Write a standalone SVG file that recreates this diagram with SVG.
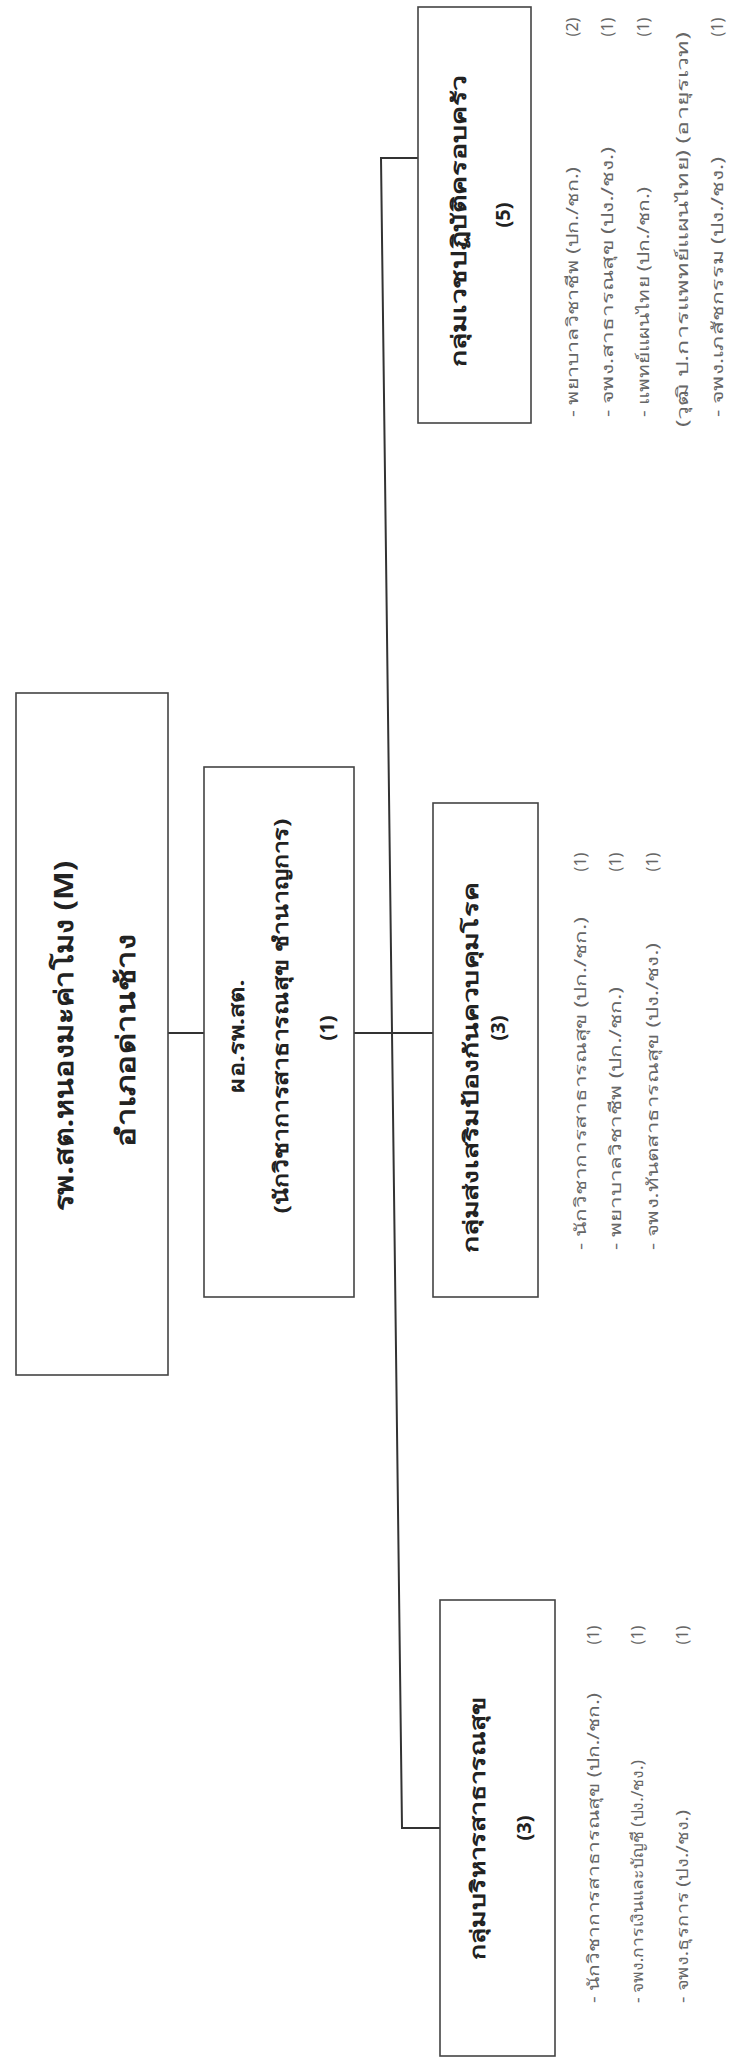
<svg xmlns="http://www.w3.org/2000/svg" width="729" height="2060" viewBox="0 0 729 2060">
<style>
.box{fill:#fff;stroke:#444;stroke-width:1.6}
.conn{fill:none;stroke:#333;stroke-width:2}
.t{font-family:"Noto Sans","DejaVu Sans",sans-serif;fill:#222;dominant-baseline:central}
.b{font-weight:bold}
.ttl{font-size:20px;text-anchor:middle}
.big{font-size:26px;text-anchor:middle}
.li{font-size:16px;fill:#666;text-anchor:start}
.cnt{font-size:16px;fill:#666;text-anchor:middle}
</style>
<rect width="729" height="2060" fill="#fff"/>
<g id="connectors">
<path class="conn" d="M418,158 H381 L402,1828 H440"/>
<path class="conn" d="M168,1033 H204"/>
<path class="conn" d="M354,1033 H433"/>
</g>
<g id="node-hospital">
<rect class="box" x="16" y="693" width="152" height="682"/>
<text class="t b big" transform="translate(63,1036) rotate(-90)" textLength="350" lengthAdjust="spacingAndGlyphs">รพ.สต.หนองมะค่าโมง (M)</text>
<text class="t b big" transform="translate(125,1040) rotate(-90)" textLength="213" lengthAdjust="spacingAndGlyphs">อำเภอด่านช้าง</text>
</g>
<g id="node-director">
<rect class="box" x="204" y="767" width="150" height="530"/>
<text class="t b ttl" transform="translate(236,1036) rotate(-90)" textLength="113" lengthAdjust="spacingAndGlyphs">ผอ.รพ.สต.</text>
<text class="t b ttl" transform="translate(280,1016) rotate(-90)" textLength="395" lengthAdjust="spacingAndGlyphs">(นักวิชาการสาธารณสุข ชำนาญการ)</text>
<text class="t b ttl" transform="translate(326,1028) rotate(-90)">(1)</text>
</g>
<g id="node-family">
<rect class="box" x="418" y="7" width="113" height="416"/>
<text class="t b ttl" transform="translate(458,221) rotate(-90)" textLength="292" lengthAdjust="spacingAndGlyphs">กลุ่มเวชปฏิบัติครอบครัว</text>
<text class="t b ttl" transform="translate(502,215) rotate(-90)">(5)</text>
<text class="t li" transform="translate(572,417) rotate(-90)" textLength="250" lengthAdjust="spacingAndGlyphs">- พยาบาลวิชาชีพ (ปก./ชก.)</text>
<text class="t li" transform="translate(607,417) rotate(-90)" textLength="270" lengthAdjust="spacingAndGlyphs">- จพง.สาธารณสุข (ปง./ชง.)</text>
<text class="t li" transform="translate(643,417) rotate(-90)" textLength="230" lengthAdjust="spacingAndGlyphs">- แพทย์แผนไทย (ปก./ชก.)</text>
<text class="t li" transform="translate(682,427) rotate(-90)" textLength="395" lengthAdjust="spacingAndGlyphs">(วุฒิ ป.การแพทย์แผนไทย) (อายุรเวท)</text>
<text class="t li" transform="translate(717,417) rotate(-90)" textLength="260" lengthAdjust="spacingAndGlyphs">- จพง.เภสัชกรรม (ปง./ชง.)</text>
<text class="t cnt" transform="translate(572,27) rotate(-90)">(2)</text>
<text class="t cnt" transform="translate(607,27) rotate(-90)">(1)</text>
<text class="t cnt" transform="translate(643,27) rotate(-90)">(1)</text>
<text class="t cnt" transform="translate(717,27) rotate(-90)">(1)</text>
</g>
<g id="node-promotion">
<rect class="box" x="433" y="803" width="105" height="494"/>
<text class="t b ttl" transform="translate(470,1068) rotate(-90)" textLength="370" lengthAdjust="spacingAndGlyphs">กลุ่มส่งเสริมป้องกันควบคุมโรค</text>
<text class="t b ttl" transform="translate(497,1028) rotate(-90)">(3)</text>
<text class="t li" transform="translate(580,1250) rotate(-90)" textLength="333" lengthAdjust="spacingAndGlyphs">- นักวิชาการสาธารณสุข (ปก./ชก.)</text>
<text class="t li" transform="translate(615,1250) rotate(-90)" textLength="263" lengthAdjust="spacingAndGlyphs">- พยาบาลวิชาชีพ (ปก./ชก.)</text>
<text class="t li" transform="translate(652,1250) rotate(-90)" textLength="307" lengthAdjust="spacingAndGlyphs">- จพง.ทันตสาธารณสุข (ปง./ชง.)</text>
<text class="t cnt" transform="translate(580,862) rotate(-90)">(1)</text>
<text class="t cnt" transform="translate(615,862) rotate(-90)">(1)</text>
<text class="t cnt" transform="translate(652,862) rotate(-90)">(1)</text>
</g>
<g id="node-admin">
<rect class="box" x="440" y="1600" width="115" height="456"/>
<text class="t b ttl" transform="translate(477,1828) rotate(-90)" textLength="263" lengthAdjust="spacingAndGlyphs">กลุ่มบริหารสาธารณสุข</text>
<text class="t b ttl" transform="translate(523,1828) rotate(-90)">(3)</text>
<text class="t li" transform="translate(593,2003) rotate(-90)" textLength="310" lengthAdjust="spacingAndGlyphs">- นักวิชาการสาธารณสุข (ปก./ชก.)</text>
<text class="t li" transform="translate(637,2003) rotate(-90)" textLength="243" lengthAdjust="spacingAndGlyphs">- จพง.การเงินและบัญชี (ปง./ชง.)</text>
<text class="t li" transform="translate(682,2003) rotate(-90)" textLength="193" lengthAdjust="spacingAndGlyphs">- จพง.ธุรการ (ปง./ชง.)</text>
<text class="t cnt" transform="translate(593,1635) rotate(-90)">(1)</text>
<text class="t cnt" transform="translate(637,1635) rotate(-90)">(1)</text>
<text class="t cnt" transform="translate(682,1635) rotate(-90)">(1)</text>
</g>
</svg>
